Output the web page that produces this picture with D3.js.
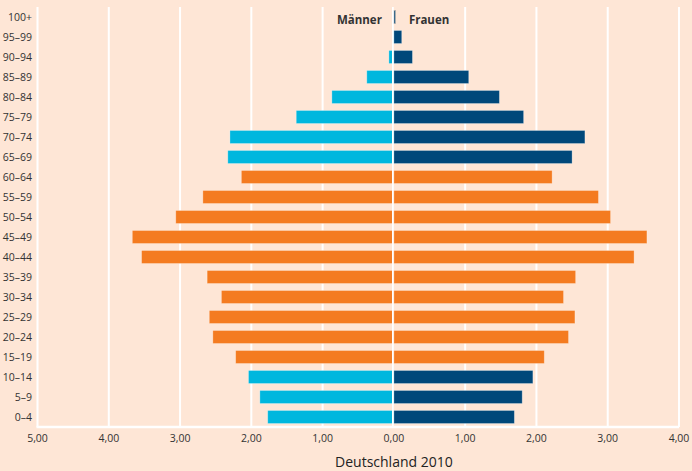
<!DOCTYPE html>
<html>
<head>
<meta charset="utf-8">
<script src="https://cdn.jsdelivr.net/npm/d3@7"></script>
<style>
  body { margin: 0; background: #fee6d6; }
  svg { display: block; font-family: "Open Sans", "Lato", sans-serif; }
</style>
</head>
<body>
<script>
// age groups, top to bottom
const ages = ['100+', '95–99', '90–94', '85–89', '80–84', '75–79', '70–74', '65–69', '60–64',
  '55–59', '50–54', '45–49', '40–44', '35–39', '30–34', '25–29', '20–24', '15–19',
  '10–14', '5–9', '0–4'];
// share of population in percent
const maenner = [0.01, 0.02, 0.07, 0.38, 0.87, 1.37, 2.30, 2.33, 2.14,
  2.68, 3.06, 3.67, 3.54, 2.62, 2.42, 2.59, 2.54, 2.22,
  2.04, 1.88, 1.77];
const frauen = [0.02, 0.11, 0.26, 1.05, 1.48, 1.82, 2.68, 2.50, 2.22,
  2.87, 3.04, 3.55, 3.37, 2.55, 2.38, 2.54, 2.45, 2.11,
  1.95, 1.80, 1.69];
const xTicks = [-5, -4, -3, -2, -1, 0, 1, 2, 3, 4];
const workAge = ['15–19', '20–24', '25–29', '30–34', '35–39', '40–44', '45–49', '50–54', '55–59', '60–64'];

const width = 692, height = 471;
const margin = {top: 7, right: 14, bottom: 44, left: 37};

const svg = d3.select('body').append('svg')
  .attr('width', width)
  .attr('height', height);

const x = d3.scaleLinear().domain([-5, 4]).range([37.5, 679]);
const y = d3.scaleBand().domain(ages).range([margin.top, height - margin.bottom]).paddingInner(0.35).paddingOuter(0.175);

// grid lines
svg.append('g')
  .selectAll('line')
  .data(xTicks.filter((d) => d !== 0))
  .enter().append('line')
  .attr('x1', (d) => x(d)).attr('x2', (d) => x(d))
  .attr('y1', margin.top).attr('y2', height - margin.bottom)
  .attr('stroke', '#fff')
  .attr('stroke-width', 2);

const colM = (a) => workAge.includes(a) ? '#f47b20' : '#00b7de';
const colF = (a) => workAge.includes(a) ? '#f47b20' : '#00487a';

// men bars (left)
svg.append('g')
  .selectAll('rect')
  .data(ages)
  .enter().append('rect')
  .attr('x', (d, i) => x(-maenner[i]))
  .attr('y', (d) => y(d))
  .attr('width', (d, i) => x(0) - x(-maenner[i]))
  .attr('height', y.bandwidth())
  .attr('fill', (d) => colM(d))
  .attr('stroke', (d, i) => i === 0 ? '#aaa' : 'rgba(255,255,255,0.35)')
  .attr('stroke-width', 0.8);

// women bars (right)
svg.append('g')
  .selectAll('rect')
  .data(ages)
  .enter().append('rect')
  .attr('x', x(0))
  .attr('y', (d) => y(d))
  .attr('width', (d, i) => x(frauen[i]) - x(0))
  .attr('height', y.bandwidth())
  .attr('fill', (d) => colF(d))
  .attr('stroke', (d, i) => i === 0 ? '#aaa' : 'rgba(255,255,255,0.35)')
  .attr('stroke-width', 0.8);

// zero line on top
svg.append('line')
  .attr('x1', x(0) - 1).attr('x2', x(0) - 1)
  .attr('y1', margin.top).attr('y2', height - margin.bottom)
  .attr('stroke', '#fff')
  .attr('stroke-width', 1.8);

// bottom axis line
svg.append('line')
  .attr('x1', x(-5) - 1).attr('x2', x(4))
  .attr('y1', height - margin.bottom).attr('y2', height - margin.bottom)
  .attr('stroke', '#fff')
  .attr('stroke-width', 2.5);

// x tick labels
svg.append('g')
  .selectAll('text')
  .data(xTicks)
  .enter().append('text')
  .attr('x', (d) => x(d))
  .attr('y', height - margin.bottom + 15)
  .attr('text-anchor', 'middle')
  .attr('font-size', 10.5)
  .attr('fill', '#333')
  .text((d) => d3.format('.2f')(Math.abs(d)).replace('.', ','));

// age labels
svg.append('g')
  .selectAll('text')
  .data(ages)
  .enter().append('text')
  .attr('x', 32)
  .attr('y', (d) => y(d) + y.bandwidth() / 2)
  .attr('dy', '.35em')
  .attr('text-anchor', 'end')
  .attr('font-size', 10.5)
  .attr('fill', '#333')
  .text((d) => d);

// series labels
svg.append('text')
  .attr('x', x(0) - 12).attr('y', 24)
  .attr('text-anchor', 'end')
  .attr('font-size', 11.5).attr('font-weight', 'bold')
  .attr('fill', '#333')
  .text('Männer');
svg.append('text')
  .attr('x', x(0) + 15).attr('y', 24)
  .attr('font-size', 11.5).attr('font-weight', 'bold')
  .attr('fill', '#333')
  .text('Frauen');

// title
svg.append('text')
  .attr('x', x(0)).attr('y', 467)
  .attr('text-anchor', 'middle')
  .attr('font-size', 14)
  .attr('fill', '#222')
  .text('Deutschland 2010');
</script>
</body>
</html>
